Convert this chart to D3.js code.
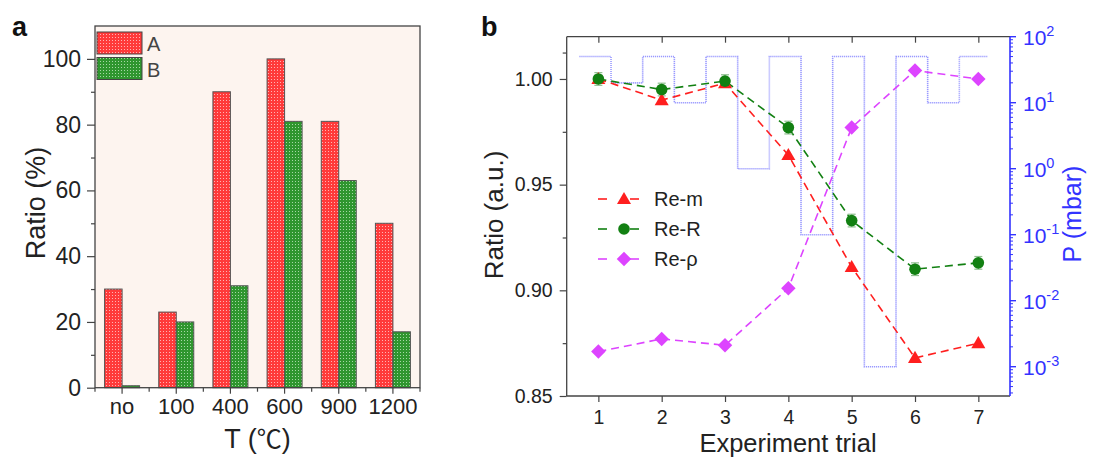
<!DOCTYPE html>
<html><head><meta charset="utf-8">
<script src="https://cdn.jsdelivr.net/npm/d3@7"></script>
<style>body{margin:0;background:#fff} text{font-family:"Liberation Sans",Arial,sans-serif}</style>
</head><body><svg id="c" width="1093" height="459"></svg>
<script>
// ---------- data ----------
const categories = ["no","100","400","600","900","1200"];
const seriesA = [30,23,90,100,81,50];
const seriesB = [0.6,20,31,81,63,17];
const ratioTicks = [0,20,40,60,80,100];

const trials = [1,2,3,4,5,6,7];
const reM = [1.000,0.990,0.998,0.964,0.911,0.868,0.875];
const reR = [1.000,0.995,0.999,0.977,0.933,0.910,0.913];
const reRerr = [0.003,0.003,0.003,0.003,0.003,0.003,0.003];
const reRho = [0.871,0.877,0.874,0.901,0.977,1.004,1.000];
const stepEdges = [0.7,1.2,1.7,2.2,2.7,3.2,3.7,4.2,4.7,5.2,5.7,6.2,6.7,7.15];
const stepP = [50,20,50,10,50,1,50,0.1,50,0.001,50,10,50];
const leftTicksB = [0.85,0.90,0.95,1.00];
const pTicks = [-3,-2,-1,0,1,2];

const svg = d3.select("#c");
const defs = svg.append("defs");
function pat(id, bg, dot){
  const p = defs.append("pattern").attr("id",id).attr("patternUnits","userSpaceOnUse")
    .attr("width",3).attr("height",3);
  p.append("rect").attr("width",3).attr("height",3).attr("fill",bg);
  p.append("rect").attr("x",1).attr("y",1).attr("width",1).attr("height",1).attr("fill",dot);
}
pat("pA","#ff3a3a","#ffb3b3");
pat("pB","#2f962f","#a6d8a6");

// ---------- panel a ----------
const ax = {l:95, r:420, t:26, b:387.7};
const xA = d3.scaleBand().domain(categories).range([ax.l, ax.r]);
const yA = d3.scaleLinear().domain([0,110]).range([ax.b, ax.t]);
const gA = svg.append("g");
gA.append("rect").attr("x",ax.l).attr("y",ax.t).attr("width",ax.r-ax.l).attr("height",ax.b-ax.t).attr("fill","#fdf4ef");
const bw = 17.5;
gA.selectAll(".ba").data(categories).join("rect")
  .attr("x", d=>xA(d)+xA.bandwidth()/2-bw).attr("width",bw)
  .attr("y",(d,i)=>yA(seriesA[i])).attr("height",(d,i)=>yA(0)-yA(seriesA[i]))
  .attr("fill","url(#pA)").attr("stroke","#555").attr("stroke-width",1);
gA.selectAll(".bb").data(categories).join("rect")
  .attr("x", d=>xA(d)+xA.bandwidth()/2).attr("width",bw)
  .attr("y",(d,i)=>yA(seriesB[i])).attr("height",(d,i)=>yA(0)-yA(seriesB[i]))
  .attr("fill","url(#pB)").attr("stroke","#555").attr("stroke-width",1);
// frame
gA.append("rect").attr("x",ax.l).attr("y",ax.t).attr("width",ax.r-ax.l).attr("height",ax.b-ax.t)
  .attr("fill","none").attr("stroke","#444").attr("stroke-width",1.3);
// y axis
const yAxA = gA.append("g").attr("transform",`translate(${ax.l},0)`)
  .call(d3.axisLeft(yA).tickValues(ratioTicks).tickSize(8).tickPadding(6));
const yAxAm = gA.append("g").attr("transform",`translate(${ax.l},0)`)
  .call(d3.axisLeft(yA).tickValues([10,30,50,70,90]).tickSize(4).tickFormat(""));
// x axis
const xAxA = gA.append("g").attr("transform",`translate(0,${ax.b})`)
  .call(d3.axisBottom(xA).tickSize(6).tickPadding(5));
const bounds = categories.map(c=>xA(c)).concat([ax.r]);
gA.append("g").selectAll("line").data(bounds).join("line")
  .attr("x1",d=>d).attr("x2",d=>d).attr("y1",ax.b).attr("y2",ax.b+4).attr("stroke","#444").attr("stroke-width",1.2);
[yAxA,yAxAm,xAxA].forEach(g=>{
  g.select(".domain").remove();
  g.selectAll("line").attr("stroke","#444").attr("stroke-width",1.2);
  g.selectAll("text").attr("fill","#222");
});
yAxA.selectAll("text").attr("font-size",23);
xAxA.selectAll("text").attr("font-size",22);
gA.append("text").attr("transform","translate(45,203) rotate(-90)").attr("text-anchor","middle")
  .attr("font-size",27).attr("fill","#222").text("Ratio (%)");
const tl = gA.append("text").attr("x",257.5).attr("y",448).attr("text-anchor","middle")
  .attr("font-size",27).attr("fill","#222");
tl.append("tspan").text("T (");
tl.append("tspan").attr("font-family","Noto Sans CJK SC").attr("font-size",25).text("℃");
tl.append("tspan").text(")");
gA.append("text").attr("x",12).attr("y",36).attr("font-size",27).attr("font-weight","bold").attr("fill","#111").text("a");
// legend
const legA = [["A","url(#pA)"],["B","url(#pB)"]];
legA.forEach((d,i)=>{
  gA.append("rect").attr("x",97).attr("y",32+i*25.5).attr("width",45).attr("height",22)
    .attr("fill",d[1]).attr("stroke","#444");
  gA.append("text").attr("x",147).attr("y",51+i*25.5).attr("font-size",20).attr("fill","#444").text(d[0]);
});

// ---------- panel b ----------
const bx = {l:566.7, r:1010, t:36.7, b:396};
const xB = d3.scaleLinear().domain([0.5,7.5]).range([bx.l,bx.r]);
const yB = d3.scaleLinear().domain([0.85,1.02]).range([bx.b,bx.t]);
const yP = d3.scaleLog().domain([Math.pow(10,-3.444),100]).range([bx.b,bx.t]);
const gB = svg.append("g");

// step pressure line
const stepPts = stepP.map((p,i)=>[stepEdges[i],p]).concat([[stepEdges[stepEdges.length-1], stepP[stepP.length-1]]]);
gB.append("path").attr("d", d3.line().x(d=>xB(d[0])).y(d=>yP(d[1])).curve(d3.curveStepAfter)(stepPts))
  .attr("fill","none").attr("stroke","#8080ff").attr("stroke-width",1.6).attr("stroke-dasharray","1.2,0.8").attr("opacity",0.8);

// frame
gB.append("line").attr("x1",bx.l).attr("x2",bx.r).attr("y1",bx.t).attr("y2",bx.t).attr("stroke","#444").attr("stroke-width",1.3);
gB.append("line").attr("x1",bx.l).attr("x2",bx.r).attr("y1",bx.b).attr("y2",bx.b).attr("stroke","#444").attr("stroke-width",1.3);
gB.append("line").attr("x1",bx.l).attr("x2",bx.l).attr("y1",bx.t).attr("y2",bx.b).attr("stroke","#444").attr("stroke-width",1.3);

// axes
const xAxB = gB.append("g").attr("transform",`translate(0,${bx.b})`)
  .call(d3.axisBottom(xB).tickValues(trials).tickFormat(d3.format("d")).tickSize(6).tickPadding(8));
const xAxBt = gB.append("g").attr("transform",`translate(0,${bx.t})`)
  .call(d3.axisBottom(xB).tickValues(trials).tickFormat("").tickSize(6));
const yAxB = gB.append("g").attr("transform",`translate(${bx.l},0)`)
  .call(d3.axisLeft(yB).tickValues(leftTicksB).tickFormat(d3.format(".2f")).tickSize(7).tickPadding(7));
const yAxBm = gB.append("g").attr("transform",`translate(${bx.l},0)`)
  .call(d3.axisLeft(yB).tickValues([0.875,0.925,0.975,1.0125]).tickSize(4).tickFormat(""));
[xAxB,xAxBt,yAxB,yAxBm].forEach(g=>{
  g.select(".domain").remove();
  g.selectAll("line").attr("stroke","#444").attr("stroke-width",1.2);
  g.selectAll("text").attr("font-size",19.5).attr("fill","#222");
});
// right log axis
const blue = "#3333ff";
gB.append("line").attr("x1",bx.r).attr("x2",bx.r).attr("y1",bx.t).attr("y2",bx.b).attr("stroke",blue).attr("stroke-width",1.6);
const minorP = [];
for (let e=-4;e<2;e++) for (let m=2;m<10;m++){ const v=m*Math.pow(10,e); if (v>=yP.domain()[0] && v<=100) minorP.push(v); }
gB.append("g").selectAll("line").data(minorP).join("line")
  .attr("x1",bx.r).attr("x2",bx.r+3).attr("y1",d=>yP(d)).attr("y2",d=>yP(d)).attr("stroke",blue).attr("stroke-width",1);
gB.append("g").selectAll("line").data(pTicks).join("line")
  .attr("x1",bx.r).attr("x2",bx.r+6).attr("y1",d=>yP(Math.pow(10,d))).attr("y2",d=>yP(Math.pow(10,d))).attr("stroke",blue).attr("stroke-width",1.4);
const pl = gB.append("g").selectAll("text").data(pTicks).join("text")
  .attr("x",bx.r+13).attr("y",d=>yP(Math.pow(10,d))+8).attr("font-size",21).attr("fill",blue);
pl.append("tspan").text("10");
pl.append("tspan").attr("dy",-9).attr("font-size",14.5).text(d=>String(d));
gB.append("text").attr("transform","translate(1081,214) rotate(-90)").attr("text-anchor","middle")
  .attr("font-size",25).attr("fill",blue).text("P (mbar)");

gB.append("text").attr("transform","translate(503,215) rotate(-90)").attr("text-anchor","middle")
  .attr("font-size",26).attr("fill","#222").text("Ratio (a.u.)");
gB.append("text").attr("x",788).attr("y",452).attr("text-anchor","middle")
  .attr("font-size",25.5).attr("fill","#222").text("Experiment trial");
gB.append("text").attr("x",481).attr("y",36).attr("font-size",27).attr("font-weight","bold").attr("fill","#111").text("b");

// series
const series = [
  {name:"Re-m", vals:reM, color:"#ff1f1f", sym:"tri"},
  {name:"Re-R", vals:reR, color:"#128012", sym:"circ"},
  {name:"Re-ρ", vals:reRho, color:"#dd44ff", sym:"dia"}
];
function marker(g, s, x, y){
  if (s.sym==="tri") g.append("path").attr("d",d3.symbol(d3.symbolTriangle,85)()).attr("transform",`translate(${x},${y+1})`).attr("fill",s.color);
  else if (s.sym==="circ") g.append("circle").attr("cx",x).attr("cy",y).attr("r",5.8).attr("fill",s.color);
  else g.append("path").attr("d",d3.symbol(d3.symbolSquare,105)()).attr("transform",`translate(${x},${y}) rotate(45)`).attr("fill",s.color);
}
const line = d3.line().x((d,i)=>xB(trials[i])).y(d=>yB(d));
series.forEach(s=>{
  gB.append("path").attr("d",line(s.vals)).attr("fill","none").attr("stroke",s.color)
    .attr("stroke-width",1.6).attr("stroke-dasharray","8,5");
});
// error bars for Re-R
const eg = gB.append("g").attr("stroke","#8fbf8f").attr("stroke-width",1.2);
reR.forEach((v,i)=>{
  const x = xB(trials[i]);
  eg.append("line").attr("x1",x).attr("x2",x).attr("y1",yB(v-reRerr[i])).attr("y2",yB(v+reRerr[i]));
  [v-reRerr[i], v+reRerr[i]].forEach(e=>eg.append("line").attr("x1",x-4).attr("x2",x+4).attr("y1",yB(e)).attr("y2",yB(e)));
});
series.forEach(s=>{
  s.vals.forEach((v,i)=>marker(gB, s, xB(trials[i]), yB(v)));
});
// legend
series.forEach((s,i)=>{
  const y = 199 + i*30;
  [[598,607],[630,639]].forEach(seg=>gB.append("line").attr("x1",seg[0]).attr("x2",seg[1]).attr("y1",y).attr("y2",y)
    .attr("stroke",s.color).attr("stroke-width",1.6));
  marker(gB, s, 624, y);
  gB.append("text").attr("x",654).attr("y",y+7).attr("font-size",20).attr("fill","#222").text(s.name);
});
</script></body></html>
